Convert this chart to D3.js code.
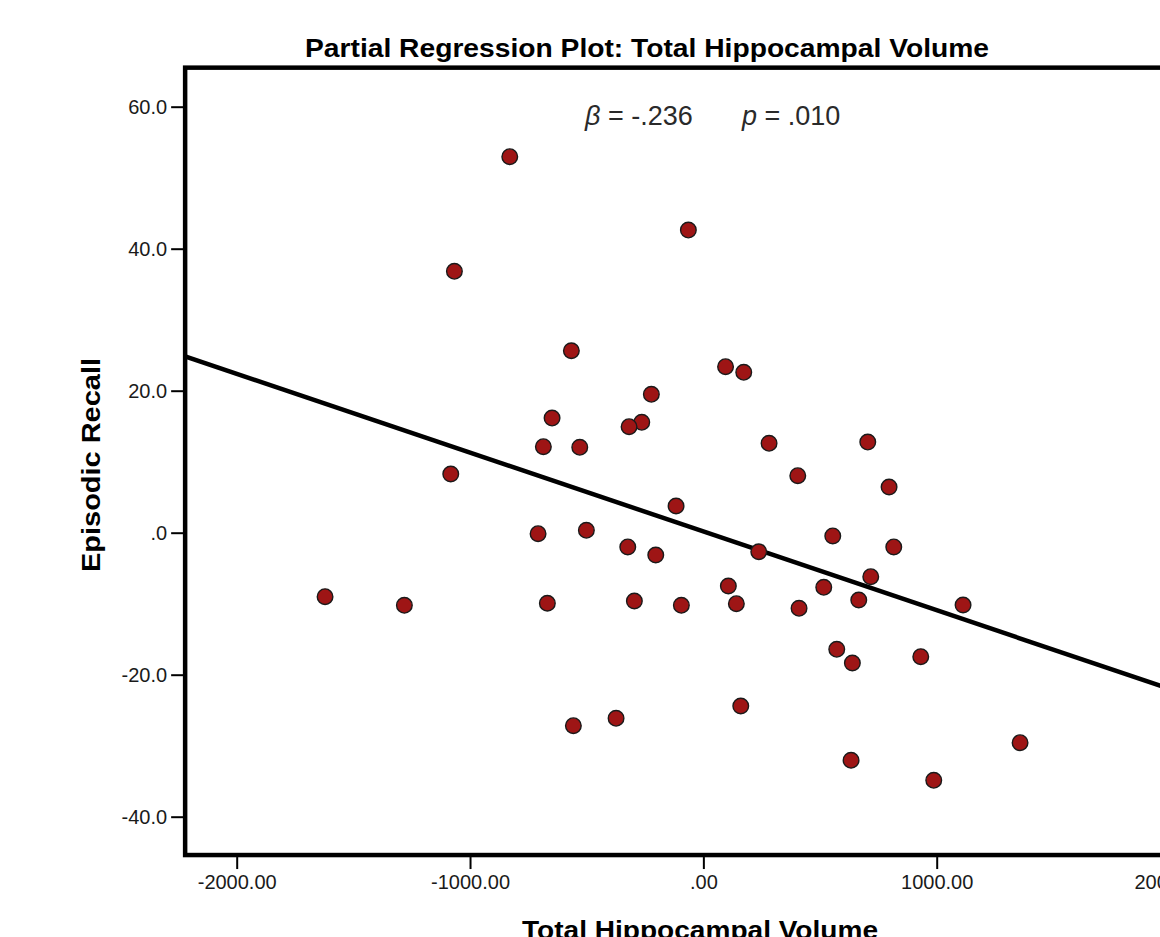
<!DOCTYPE html>
<html>
<head>
<meta charset="utf-8">
<script src="https://cdn.jsdelivr.net/npm/d3@7"></script>
<style>
  html, body { margin: 0; padding: 0; background: #fff; }
  svg { display: block; font-family: "Liberation Sans", Arial, sans-serif; }
</style>
</head>
<body>
<svg id="chart" width="1160" height="937"></svg>
<script>
// ---- Data ----
const volume = [
  -829.7, -64.3, -1067, -565.7, 95.1, 173.1, -222.9, -648.4, -264, -318.4,
  -685.7, -529.7, 281.6, 704.6, 404.6, -1082.6, 795.9, -117, -501.4, -708.4,
  554.6, -324, 816, 237.4, -204, 717.4, 107.1, 516, -1621.3, -295.7,
  666, -668.6, 141.4, -94.3, -1281.4, 410.1, 1113, 571.7, 931.7, 638.6,
  160.3, -374.1, -557.1, 1357.3, 633, 987.4
];
const recall = [
  52.96, 42.63, 36.82, 25.63, 23.38, 22.59, 19.49, 16.15, 15.55, 14.93,
  12.11, 12.03, 12.59, 12.77, 8.03, 8.27, 6.44, 3.76, 0.34, -0.14,
  -0.46, -2.01, -2.01, -2.68, -3.14, -6.2, -7.51, -7.69, -9.01, -9.62,
  -9.48, -9.94, -10.0, -10.23, -10.23, -10.65, -10.18, -16.42, -17.46, -18.35,
  -24.41, -26.14, -27.18, -29.58, -32.06, -34.87
];
const xTicks = [-2000, -1000, 0, 1000, 2000];
const xTickLabels = ["-2000.00", "-1000.00", ".00", "1000.00", "2000.00"];
const yTicks = [60, 40, 20, 0, -20, -40];
const yTickLabels = ["60.0", "40.0", "20.0", ".0", "-20.0", "-40.0"];
const fitSlope = -0.0111;
const fitIntercept = 0.18;
const xDomain = [-2221, 2400];
const yDomain = [-45.4, 65.5];

const titleText = "Partial Regression Plot: Total Hippocampal Volume";
const xTitle = "Total Hippocampal Volume";
const yTitle = "Episodic Recall";

// ---- Scales ----
const x = d3.scaleLinear().domain([-2000, 1000]).range([236.7, 936.7]);
const y = d3.scaleLinear().domain([0, 60]).range([532.7, 106.7]);

const svg = d3.select("#chart");
const pLeft = x(xDomain[0]), pRight = x(xDomain[1]);
const pTop = y(yDomain[1]), pBottom = y(yDomain[0]);

svg.append("defs").append("clipPath").attr("id", "plotclip")
  .append("rect").attr("x", pLeft).attr("y", pTop)
  .attr("width", pRight - pLeft).attr("height", pBottom - pTop);

// Title
svg.append("text")
  .attr("x", 647).attr("y", 57)
  .attr("text-anchor", "middle")
  .attr("font-size", 25.5).attr("font-weight", "bold").attr("fill", "#000")
  .attr("textLength", 684).attr("lengthAdjust", "spacingAndGlyphs")
  .text(titleText);

// Axes
const xAxis = d3.axisBottom(x).tickValues(xTicks)
  .tickFormat((d, i) => xTickLabels[i]).tickSize(12).tickPadding(6);
const gx = svg.append("g").attr("transform", `translate(0,${pBottom + 2})`).call(xAxis);
gx.select(".domain").remove();
gx.selectAll(".tick line").attr("stroke", "#000").attr("stroke-width", 2);
gx.selectAll(".tick text").attr("font-size", 20).attr("fill", "#1a1a1a")
  .attr("font-family", "'Liberation Sans', Arial, sans-serif");

const yAxis = d3.axisLeft(y).tickValues(yTicks)
  .tickFormat((d, i) => yTickLabels[i]).tickSize(12).tickPadding(4);
const gy = svg.append("g").attr("transform", `translate(${pLeft - 2},0)`).call(yAxis);
gy.select(".domain").remove();
gy.selectAll(".tick line").attr("stroke", "#000").attr("stroke-width", 2);
gy.selectAll(".tick text").attr("font-size", 20).attr("fill", "#1a1a1a")
  .attr("font-family", "'Liberation Sans', Arial, sans-serif");

// Axis titles
svg.append("text")
  .attr("x", 700).attr("y", 939)
  .attr("text-anchor", "middle")
  .attr("font-size", 26).attr("font-weight", "bold").attr("fill", "#000")
  .attr("textLength", 356).attr("lengthAdjust", "spacingAndGlyphs")
  .text(xTitle);

svg.append("text")
  .attr("transform", `translate(100,465) rotate(-90)`)
  .attr("text-anchor", "middle")
  .attr("font-size", 25).attr("font-weight", "bold").attr("fill", "#000")
  .attr("textLength", 214).attr("lengthAdjust", "spacingAndGlyphs")
  .text(yTitle);

// Plot group
const plot = svg.append("g").attr("clip-path", "url(#plotclip)");

// Regression line
const lx = [xDomain[0], xDomain[1]];
plot.append("line")
  .attr("x1", x(lx[0])).attr("y1", y(fitIntercept + fitSlope * lx[0]))
  .attr("x2", x(lx[1])).attr("y2", y(fitIntercept + fitSlope * lx[1]))
  .attr("stroke", "#000").attr("stroke-width", 4.5);

// Points
plot.selectAll("circle.pt")
  .data(volume.map((v, i) => ({ v, r: recall[i] })))
  .join("circle")
  .attr("class", "pt")
  .attr("cx", d => x(d.v)).attr("cy", d => y(d.r))
  .attr("r", 7.8)
  .attr("fill", "#9e1515").attr("stroke", "#1a1a1a").attr("stroke-width", 1.4);

// Frame
svg.append("rect")
  .attr("x", pLeft).attr("y", pTop)
  .attr("width", pRight - pLeft).attr("height", pBottom - pTop)
  .attr("fill", "none").attr("stroke", "#000").attr("stroke-width", 4.5);

// Annotation
const ann = svg.append("text")
  .attr("x", 585).attr("y", 125)
  .attr("font-size", 27).attr("fill", "#2a2a2a");
ann.append("tspan").attr("font-style", "italic").text("β");
ann.append("tspan").text(" = -.236");
const ann2 = svg.append("text")
  .attr("x", 742).attr("y", 125)
  .attr("font-size", 27).attr("fill", "#2a2a2a");
ann2.append("tspan").attr("font-style", "italic").text("p");
ann2.append("tspan").text(" = .010");
</script>
</body>
</html>
